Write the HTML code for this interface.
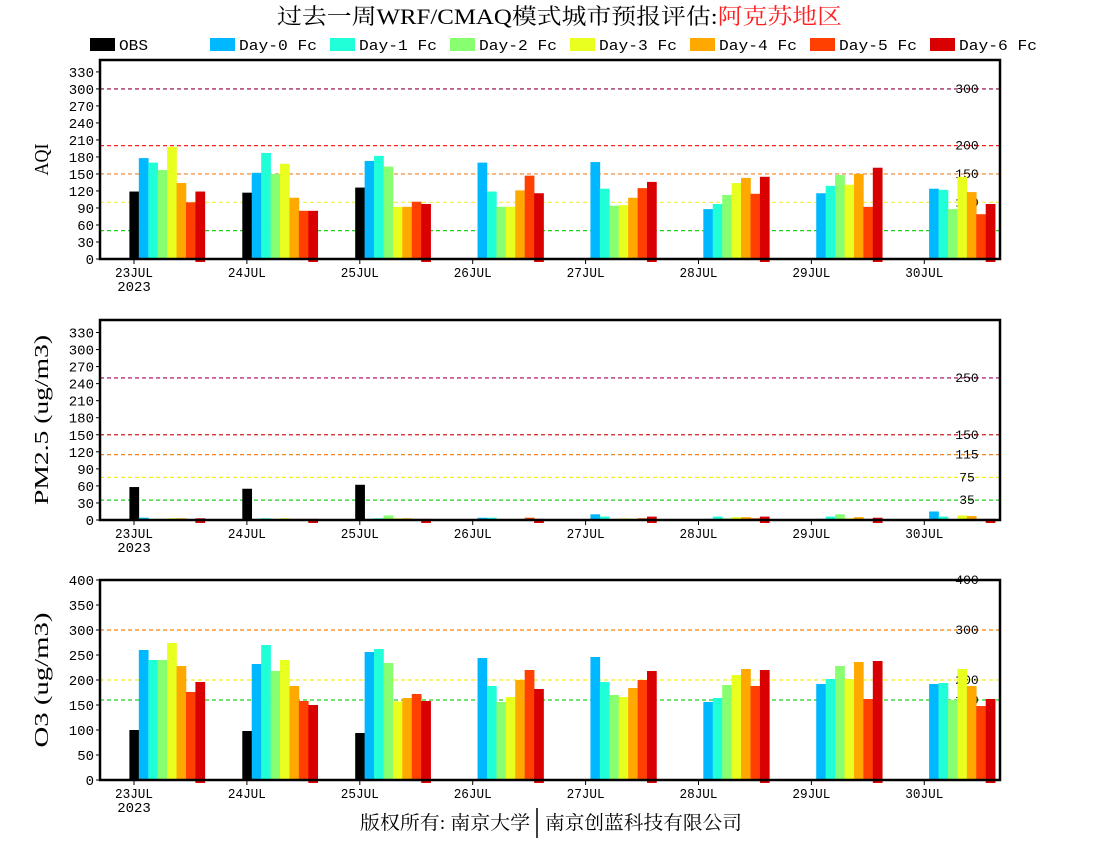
<!DOCTYPE html>
<html><head><meta charset="utf-8"><style>
html,body{margin:0;padding:0;background:#fff;}
svg{display:block;}
text{font-family:"Liberation Serif","Noto Serif CJK SC",serif;}
.m{font-family:"Liberation Mono","Noto Sans CJK SC",monospace;}
</style></head><body>
<svg id="s" width="1100" height="850" xmlns="http://www.w3.org/2000/svg">
<text x="277" y="24" font-size="22" textLength="565" lengthAdjust="spacingAndGlyphs" font-family="Liberation Serif, Noto Serif CJK SC, serif">过去一周WRF/CMAQ模式城市预报评估:<tspan fill="#ff2020">阿克苏地区</tspan></text>
<text x="360" y="829" font-size="19" textLength="170" lengthAdjust="spacingAndGlyphs" font-family="Liberation Serif, Noto Serif CJK SC, serif">版权所有: 南京大学</text>
<text x="545" y="829" font-size="19" textLength="197" lengthAdjust="spacingAndGlyphs" font-family="Liberation Serif, Noto Serif CJK SC, serif">南京创蓝科技有限公司</text>
<line x1="537" y1="808" x2="537" y2="838" stroke="#000" stroke-width="1.5"/>
</svg>
<script>
const S=document.getElementById('s');const NS='http://www.w3.org/2000/svg';
function el(t,a,txt){const e=document.createElementNS(NS,t);for(const k in a)e.setAttribute(k,a[k]);if(txt!==undefined)e.textContent=txt;S.appendChild(e);return e;}
const cols=['#000000','#00b8ff','#20ffd8','#88ff70','#e8ff20','#ffa800','#ff4000','#d80000'];
const names=['OBS','Day-0 Fc','Day-1 Fc','Day-2 Fc','Day-3 Fc','Day-4 Fc','Day-5 Fc','Day-6 Fc'];
const lx=[90,210,330,450,570,690,810,930];
for(let i=0;i<8;i++){el('rect',{x:lx[i],y:38,width:25,height:13,fill:cols[i]});el('text',{x:lx[i]+29,y:50,'font-size':15,class:'m',textLength:i==0?29:78,lengthAdjust:'spacingAndGlyphs'},names[i]);}
const days=['23JUL','24JUL','25JUL','26JUL','27JUL','28JUL','29JUL','30JUL'];
const L=100,R=1000,bw=9.43,sp=112.9,t0=134;
function panel(top,bot,max,ticks,lines,label,lablen,data){
 const sc=(bot-top)/max;
 lines.forEach(([v,c])=>{const y=bot-v*sc;el('line',{x1:L,y1:y,x2:R,y2:y,stroke:c,'stroke-width':1.2,'stroke-dasharray':'4,3'});
  el('text',{x:967,y:y+4,'text-anchor':'middle','font-size':13,class:'m'},String(v));});
 data.forEach((d,di)=>{d.forEach((v,bi)=>{if(v==null)return;const x=t0-4.6+sp*di+bi*bw;const y=bot-v*sc;
   el('rect',{x:x,y:y,width:bw+0.3,height:bot-y+(bi==7?3:0),fill:cols[bi]});});});
 el('rect',{x:L,y:top,width:R-L,height:bot-top,fill:'none',stroke:'#000','stroke-width':2.5});
 ticks.forEach(v=>{const y=bot-v*sc;el('line',{x1:L-4,y1:y,x2:L,y2:y,stroke:'#000'});
  el('text',{x:L-6,y:y+5,'text-anchor':'end','font-size':14,class:'m'},String(v));});
 days.forEach((d,i)=>{const x=t0+sp*i;el('line',{x1:x,y1:bot,x2:x,y2:bot+5,stroke:'#000'});
  el('text',{x:x-19,y:bot+18,'font-size':14,class:'m',textLength:38,lengthAdjust:'spacingAndGlyphs'},d);});
 el('text',{x:t0,y:bot+32,'text-anchor':'middle','font-size':14,class:'m'},'2023');
 const cy=(top+bot)/2;el('text',{x:48,y:cy,'text-anchor':'middle','font-size':20,textLength:lablen,lengthAdjust:'spacingAndGlyphs',transform:`rotate(-90 48 ${cy})`},label);
}
const t33=[];for(let v=0;v<=330;v+=30)t33.push(v);
panel(60,259,351,t33,[[300,'#900040'],[200,'#ff2020'],[150,'#f08020'],[100,'#f0f040'],[50,'#20d020']],'AQI',32,[
[119,178,170,157,198,134,100,119],[117,152,187,150,168,108,85,85],[126,173,182,163,92,92,101,97],
[null,170,119,92,92,121,147,116],[null,171,124,94,95,108,125,136],[null,88,97,113,134,143,115,145],
[null,116,129,148,131,150,92,161],[null,124,122,88,145,118,79,97]]);
panel(320,520,352,t33,[[250,'#a00060'],[150,'#d02020'],[115,'#f08020'],[75,'#f0f020'],[35,'#20d020']],'PM2.5 (ug/m3)',170,[
[58,4,2,2,3,3,0,3],[55,2,3,2,3,2,2,2],[62,2,3,8,3,3,2,2],[null,4,4,2,0,2,4,2],
[null,10,6,2,3,2,3,6],[null,2,6,3,5,5,3,6],[null,2,6,10,3,5,2,4],[null,15,6,2,8,7,2,2]]);
const t40=[];for(let v=0;v<=400;v+=50)t40.push(v);
panel(580,780,400,t40,[[400,'#ff1010'],[300,'#ff8000'],[200,'#f0f020'],[160,'#20d020']],'O3 (ug/m3)',135,[
[100,260,240,240,274,228,176,196],[98,232,270,218,240,188,158,150],[94,256,262,234,157,164,172,158],
[null,244,188,156,166,200,220,182],[null,246,196,170,166,184,200,218],[null,156,164,190,210,222,188,220],
[null,192,202,228,202,236,162,238],[null,192,194,160,222,188,148,162]]);
</script>
</body></html>
